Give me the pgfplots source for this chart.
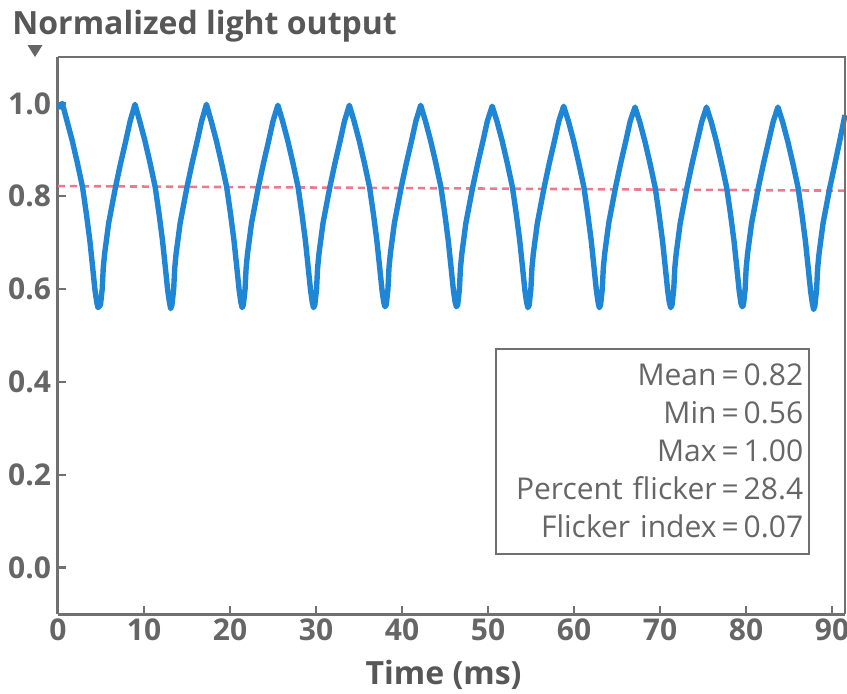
\documentclass[border=0pt]{standalone}
\usepackage{fontspec}
\setmainfont{Open Sans}
\usepackage{pgfplots}
\pgfplotsset{compat=1.18}
\definecolor{Trace}{HTML}{1F86D6}
\definecolor{MeanC}{HTML}{E8627A}
\definecolor{Ink}{HTML}{666666}
\definecolor{Frame}{HTML}{707070}

\begin{document}
\begin{tikzpicture}
\begin{axis}[scale only axis,width=393.5pt,height=278.5pt,
  xmin=0,xmax=91.5,ymin=-0.1,ymax=1.1,
  axis lines*=left,axis line style={Frame,line width=1.5pt,-},
  xtick={0,10,20,30,40,50,60,70,80,90},
  ytick={0,0.2,0.4,0.6,0.8,1.0},
  tick align=inside,major tick length=4pt,
  tick style={Frame,line width=1.1pt},
  /pgf/number format/assume math mode=true,
  yticklabel style={/pgf/number format/.cd,fixed,precision=1,zerofill},
  ticklabel style={font=\fontsize{15}{17}\selectfont\bfseries,text=Ink},
  xticklabel style={yshift=1pt},
  xlabel={Time (ms)},
  every axis x label/.style={at={(axis description cs:0.49,0)},anchor=base,yshift=-35pt,
    font=\fontsize{16}{18}\selectfont\bfseries,text=Ink!85!black},
  clip=false]
% mean level
\addplot[MeanC!85,line width=1.3pt,dash pattern=on 3.5pt off 2.5pt] coordinates {(0,0.822) (91.5,0.812)};
% measured waveform
\addplot[Trace,line width=2.7pt,line join=round] coordinates {
(0,0.990) (0.50,1.000) (1.05,0.962) (1.65,0.920) (2.25,0.872) (2.85,0.820) (3.30,0.762) (3.70,0.705) (4.00,0.652) (4.30,0.598) (4.50,0.572) (4.65,0.560)
(4.94,0.566) (5.14,0.600) (5.26,0.645) (5.42,0.676) (5.89,0.742) (6.69,0.820) (7.29,0.872) (7.89,0.920) (8.39,0.962)
(8.95,0.998) (9.50,0.962) (10.10,0.920) (10.70,0.872) (11.30,0.820) (11.75,0.762) (12.15,0.705) (12.45,0.652) (12.75,0.598) (12.95,0.572) (13.10,0.558)
(13.25,0.566) (13.45,0.600) (13.57,0.645) (13.73,0.676) (14.20,0.742) (15.00,0.820) (15.60,0.872) (16.20,0.920) (16.70,0.962)
(17.26,0.998) (17.81,0.962) (18.41,0.920) (19.01,0.872) (19.61,0.820) (20.06,0.762) (20.46,0.705) (20.76,0.652) (21.06,0.598) (21.26,0.572) (21.41,0.560)
(21.55,0.566) (21.75,0.600) (21.87,0.645) (22.03,0.676) (22.50,0.742) (23.30,0.820) (23.90,0.872) (24.50,0.920) (25.00,0.962)
(25.56,0.996) (26.11,0.962) (26.71,0.920) (27.31,0.872) (27.91,0.820) (28.36,0.762) (28.76,0.705) (29.06,0.652) (29.36,0.598) (29.56,0.572) (29.71,0.560)
(29.86,0.566) (30.06,0.600) (30.18,0.645) (30.34,0.676) (30.81,0.742) (31.61,0.820) (32.21,0.872) (32.81,0.920) (33.31,0.962)
(33.87,0.996) (34.42,0.962) (35.02,0.920) (35.62,0.872) (36.22,0.820) (36.67,0.762) (37.07,0.705) (37.37,0.652) (37.67,0.598) (37.87,0.572) (38.02,0.562)
(38.16,0.566) (38.36,0.600) (38.48,0.645) (38.64,0.676) (39.11,0.742) (39.91,0.820) (40.51,0.872) (41.11,0.920) (41.61,0.962)
(42.17,0.996) (42.72,0.962) (43.32,0.920) (43.92,0.872) (44.52,0.820) (44.97,0.762) (45.37,0.705) (45.67,0.652) (45.97,0.598) (46.17,0.572) (46.32,0.562)
(46.47,0.566) (46.67,0.600) (46.79,0.645) (46.95,0.676) (47.42,0.742) (48.22,0.820) (48.82,0.872) (49.42,0.920) (49.92,0.962)
(50.48,0.994) (51.03,0.962) (51.63,0.920) (52.23,0.872) (52.83,0.820) (53.28,0.762) (53.68,0.705) (53.98,0.652) (54.28,0.598) (54.48,0.572) (54.63,0.560)
(54.78,0.566) (54.98,0.600) (55.10,0.645) (55.26,0.676) (55.73,0.742) (56.53,0.820) (57.13,0.872) (57.73,0.920) (58.23,0.962)
(58.79,0.994) (59.34,0.962) (59.94,0.920) (60.54,0.872) (61.14,0.820) (61.59,0.762) (61.99,0.705) (62.29,0.652) (62.59,0.598) (62.79,0.572) (62.94,0.560)
(63.08,0.566) (63.28,0.600) (63.40,0.645) (63.56,0.676) (64.03,0.742) (64.83,0.820) (65.43,0.872) (66.03,0.920) (66.53,0.962)
(67.09,0.992) (67.64,0.960) (68.24,0.918) (68.84,0.870) (69.44,0.818) (69.89,0.760) (70.29,0.703) (70.59,0.650) (70.89,0.596) (71.09,0.570) (71.24,0.560)
(71.39,0.566) (71.59,0.600) (71.71,0.645) (71.87,0.676) (72.34,0.742) (73.14,0.820) (73.74,0.872) (74.34,0.920) (74.84,0.960)
(75.40,0.992) (75.95,0.960) (76.55,0.918) (77.15,0.870) (77.75,0.818) (78.20,0.760) (78.60,0.703) (78.90,0.650) (79.20,0.596) (79.40,0.570) (79.55,0.562)
(79.69,0.566) (79.89,0.600) (80.01,0.645) (80.17,0.676) (80.64,0.742) (81.44,0.820) (82.04,0.872) (82.64,0.920) (83.14,0.960)
(83.70,0.992) (84.25,0.960) (84.85,0.918) (85.45,0.870) (86.05,0.818) (86.50,0.760) (86.90,0.703) (87.20,0.650) (87.50,0.596) (87.70,0.570) (87.85,0.556)
(88.00,0.564) (88.20,0.600) (88.32,0.645) (88.48,0.676) (88.95,0.742) (89.75,0.820) (90.35,0.872) (90.95,0.925) (91.50,0.975)
};
% summary box
\node[draw=Frame,line width=1.2pt,fill=white,anchor=south east,align=right,
  text width=150.5pt,minimum height=102.5pt,inner xsep=3pt,
  text=Ink,font=\fontsize{15}{19}\selectfont]
  at (rel axis cs:0.956,0.106)
  {Mean\,=\,0.82\\Min\,=\,0.56\\Max\,=\,1.00\\Percent flicker\,=\,28.4\\Flicker index\,=\,0.07};
% frame on the top and right
\draw[Frame,line width=1pt] (rel axis cs:0,1) -- (rel axis cs:1,1) -- (rel axis cs:1,0);
\end{axis}
% y-axis title and its marker
\node[anchor=base west,inner sep=0pt,text=Ink!85!black,font=\fontsize{16}{18}\selectfont\bfseries]
  at (-23pt,290pt) {Normalized light output};
\fill[Ink] (-15.25pt,284.5pt) -- (-7.75pt,284.5pt) -- (-11.5pt,278.5pt) -- cycle;
\pgfresetboundingbox
\useasboundingbox (-29pt,-39.5pt) rectangle (394.5pt,307pt);
\end{tikzpicture}
\end{document}
